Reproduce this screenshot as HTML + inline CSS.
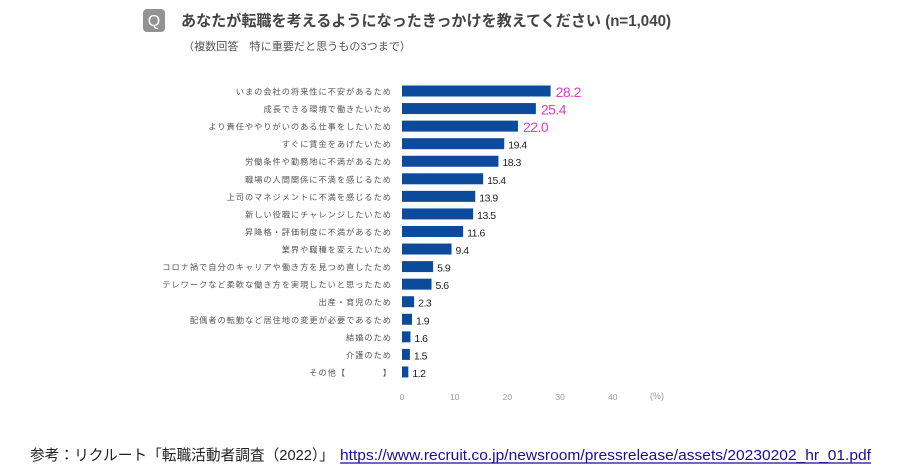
<!DOCTYPE html>
<html><head><meta charset="utf-8"><style>
body{margin:0;background:#fff;width:902px;height:473px;overflow:hidden}
svg{display:block;font-family:"Liberation Sans","Noto Sans CJK JP",sans-serif}
</style></head><body>
<svg id="c" width="902" height="473" viewBox="0 0 902 473">
<rect x="143" y="9" width="22" height="23" rx="4" fill="#939393"/>
<text x="154" y="26" text-anchor="middle" font-size="16" fill="#fff">Q</text>
<text x="181" y="26" font-size="15.5" font-weight="bold" fill="#444" textLength="490" lengthAdjust="spacingAndGlyphs">あなたが転職を考えるようになったきっかけを教えてください (n=1,040)</text>
<text x="183" y="50" font-size="11" fill="#555" textLength="228" lengthAdjust="spacingAndGlyphs">（複数回答　特に重要だと思うもの3つまで）</text>
<g id="bars"></g>
<g id="axis"></g>
<text x="30" y="460" font-size="15" fill="#222" textLength="304" lengthAdjust="spacingAndGlyphs">参考：リクルート「転職活動者調査（2022）」</text>
<a href="#"><text x="340" y="460" font-size="15" fill="#1a0d9b" textLength="531" lengthAdjust="spacingAndGlyphs">https://www.recruit.co.jp/newsroom/pressrelease/assets/20230202_hr_01.pdf</text></a>
<line x1="340" y1="463" x2="871" y2="463" stroke="#1a0d9b" stroke-width="1.2"/>
</svg>
<script>
const categories=["いまの会社の将来性に不安があるため","成長できる環境で働きたいため","より責任ややりがいのある仕事をしたいため","すぐに賃金をあげたいため","労働条件や勤務地に不満があるため","職場の人間関係に不満を感じるため","上司のマネジメントに不満を感じるため","新しい役職にチャレンジしたいため","昇降格・評価制度に不満があるため","業界や職種を変えたいため","コロナ禍で自分のキャリアや働き方を見つめ直したため","テレワークなど柔軟な働き方を実現したいと思ったため","出産・育児のため","配偶者の転勤など居住地の変更が必要であるため","結婚のため","介護のため","その他【　　　　】"];
const values=[28.2,25.4,22.0,19.4,18.3,15.4,13.9,13.5,11.6,9.4,5.9,5.6,2.3,1.9,1.6,1.5,1.2];
const ticks=[0,10,20,30,40];
const NS="http://www.w3.org/2000/svg";
const x0=402,pxPer=5.27,y0=91,step=17.56,bh=11;
const xs=v=>x0+v*pxPer, ys=i=>y0+i*step;
const bars=document.getElementById('bars'),axis=document.getElementById('axis');
function mk(tag,attrs,parent){const e=document.createElementNS(NS,tag);for(const k in attrs)e.setAttribute(k,attrs[k]);parent.appendChild(e);return e;}
categories.forEach((c,i)=>{
  const y=ys(i);
  const l=mk('text',{x:392,y:y+3.5,'text-anchor':'end','font-size':8.2,fill:'#555','letter-spacing':'1'},bars);
  l.textContent=c;
  
  
  const r=mk('rect',{x:x0,y:y-bh/2,width:values[i]*pxPer,height:bh,fill:'#0c4a9c'},bars);
  
  
  const top=i<3;
  const t=mk('text',{x:xs(values[i])+(top?5:4),y:y+(top?6:5),'font-size':top?14:10.5,fill:top?'#e03cc8':'#222','letter-spacing':'-0.5'},bars);
  t.textContent=values[i].toFixed(1);
  
  
});
ticks.forEach(v=>{
  const t=mk('text',{x:xs(v),y:400,'text-anchor':'middle','font-size':8.5,fill:'#999'},axis);
  t.textContent=v;
  
  
});
const u=mk('text',{x:657,y:399,'text-anchor':'middle','font-size':9,fill:'#999'},axis);
u.textContent='(%)';


</script>
</body></html>
